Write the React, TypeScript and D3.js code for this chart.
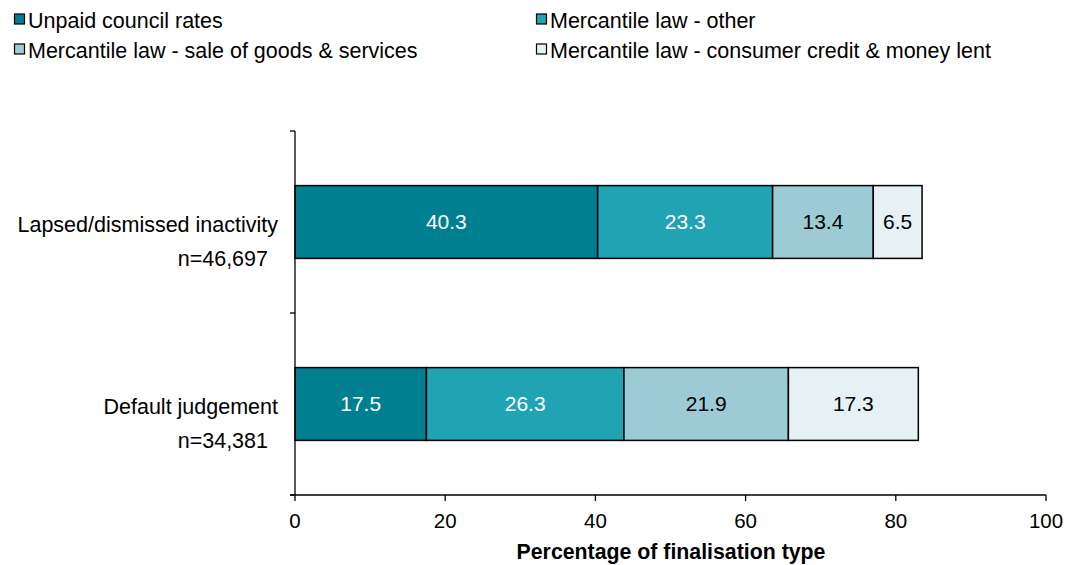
import React from "react";
import * as d3 from "d3";

const categories = ["Lapsed/dismissed inactivity", "Default judgement"];
const categoryN = ["n=46,697", "n=34,381"];
const seriesNames = [
  "Unpaid council rates",
  "Mercantile law - other",
  "Mercantile law - sale of goods & services",
  "Mercantile law - consumer credit & money lent",
];
const unpaidCouncilRates = [40.3, 17.5];
const mercantileOther = [23.3, 26.3];
const mercantileSale = [13.4, 21.9];
const mercantileCredit = [6.5, 17.3];
const xTicks = [0, 20, 40, 60, 80, 100];
const colors = ["#007f91", "#20a3b3", "#9ccbd6", "#e6f1f5"];
const labelColors = ["#ffffff", "#ffffff", "#000000", "#000000"];

const W = 1069;
const H = 565;
const FONT = "'Liberation Sans', Arial, sans-serif";
const FS = 21.5;

export default function App() {
  const series = [unpaidCouncilRates, mercantileOther, mercantileSale, mercantileCredit];
  const rows = categories.map((c, i) => {
    const r: any = { cat: c };
    seriesNames.forEach((s, j) => (r[s] = series[j][i]));
    return r;
  });
  const stacked = d3.stack<any>().keys(seriesNames)(rows);

  const x = d3.scaleLinear().domain([0, 100]).range([295, 1046]);
  const y = d3.scaleBand().domain(categories).range([131, 495]).paddingInner(0.6).paddingOuter(0.3);
  const bandFull = d3.scaleBand().domain(categories).range([131, 495]);

  const legendPos = [
    { x: 14, y: 20 },
    { x: 536, y: 20 },
    { x: 14, y: 50 },
    { x: 536, y: 50 },
  ];

  return (
    <svg width={W} height={H} style={{ position: "absolute", left: 0, top: 0, background: "#fff" }} fontFamily={FONT}>
      {/* legend */}
      {seriesNames.map((s, i) => (
        <g key={s} transform={`translate(${legendPos[i].x},${legendPos[i].y})`}>
          <rect x={0.5} y={-6} width={10} height={10} fill={colors[i]} stroke="#000" strokeWidth={1.2} />
          <text x={14} y={0} dy="0.35em" fontSize={FS} fill="#000">{s}</text>
        </g>
      ))}

      {/* bars */}
      {stacked.map((layer, si) =>
        layer.map((d, ci) => {
          const x0 = x(d[0]);
          const x1 = x(d[1]);
          const yy = y(categories[ci])!;
          const h = y.bandwidth();
          return (
            <g key={`${si}-${ci}`}>
              <rect x={x0} y={yy} width={x1 - x0} height={h} fill={colors[si]} stroke="#000" strokeWidth={1.5} />
              <text
                x={(x0 + x1) / 2}
                y={yy + h / 2}
                dy="0.35em"
                textAnchor="middle"
                fontSize={21}
                fill={labelColors[si]}
              >
                {series[si][ci].toFixed(1)}
              </text>
            </g>
          );
        })
      )}

      {/* y axis */}
      <line x1={295} x2={295} y1={131} y2={495} stroke="#000" strokeWidth={1.3} />
      {[131, ...categories.map((c) => bandFull(c)! + bandFull.bandwidth())].map((t, i) => (
        <line key={i} x1={290} x2={295} y1={t} y2={t} stroke="#000" strokeWidth={1.3} />
      ))}
      {categories.map((c, i) => {
        const cy = y(c)! + y.bandwidth() / 2;
        return (
          <g key={c}>
            <text x={278} y={cy + 2} dy="0.35em" textAnchor="end" fontSize={FS} fill="#000">{c}</text>
            <text x={268} y={cy + 36} dy="0.35em" textAnchor="end" fontSize={FS} fill="#000">{categoryN[i]}</text>
          </g>
        );
      })}

      {/* x axis */}
      <line x1={290} x2={1046} y1={495} y2={495} stroke="#000" strokeWidth={1.3} />
      {xTicks.map((t) => (
        <g key={t}>
          <line x1={x(t)} x2={x(t)} y1={495} y2={501} stroke="#000" strokeWidth={1.3} />
          <text x={x(t)} y={521} dy="0.35em" textAnchor="middle" fontSize={20.5} fill="#000">{t}</text>
        </g>
      ))}
      <text x={671} y={552} dy="0.35em" textAnchor="middle" fontSize={21.3} fontWeight="bold" fill="#000">
        Percentage of finalisation type
      </text>
    </svg>
  );
}
